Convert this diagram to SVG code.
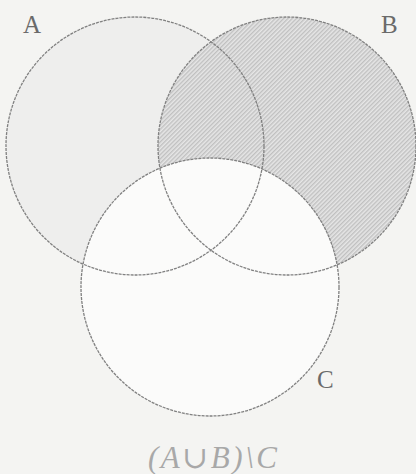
<svg xmlns="http://www.w3.org/2000/svg" width="416" height="474" viewBox="0 0 416 474">
  <style>
    .ring { fill: none; stroke: #808080; stroke-width: 1.3; stroke-dasharray: 3 1; }
    .lbl { font-family: "Liberation Serif", serif; font-size: 25px; fill: #6a6a6a; }
    .cap { font-family: "Liberation Serif", "DejaVu Serif", serif; font-style: italic; font-size: 31px; fill: #a8a8a8; }
  </style>
  <defs>
    <pattern id="hatch" patternUnits="userSpaceOnUse" width="3" height="3" patternTransform="rotate(45)">
      <rect width="3" height="3" fill="#e6e6e6"/>
      <line x1="0.8" y1="0" x2="0.8" y2="3" stroke="#aaaaaa" stroke-width="0.9"/>
    </pattern>
    <mask id="aNotC" maskUnits="userSpaceOnUse" x="0" y="0" width="416" height="474">
      <circle cx="135" cy="146" r="129" fill="#fff"/>
      <circle cx="210" cy="287" r="129" fill="#000"/>
    </mask>
    <mask id="bNotC" maskUnits="userSpaceOnUse" x="0" y="0" width="416" height="474">
      <circle cx="287" cy="146" r="129" fill="#fff"/>
      <circle cx="210" cy="287" r="129" fill="#000"/>
    </mask>
  </defs>
  <rect width="416" height="474" fill="#f4f4f2"/>
  <g id="regions">
    <circle cx="210" cy="287" r="129" fill="#fbfbfa"/>
    <rect width="416" height="474" fill="#eeeeed" mask="url(#aNotC)"/>
    <rect width="416" height="474" fill="url(#hatch)" mask="url(#bNotC)"/>
  </g>
  <g id="A">
    <circle class="ring" cx="135" cy="146" r="129"/>
    <text class="lbl" x="23" y="33">A</text>
  </g>
  <g id="B">
    <circle class="ring" cx="287" cy="146" r="129"/>
    <text class="lbl" x="381" y="33">B</text>
  </g>
  <g id="C">
    <circle class="ring" cx="210" cy="287" r="129"/>
    <text class="lbl" x="317" y="388">C</text>
  </g>
  <g id="connectors"/>
  <text class="cap" x="148" y="468" textLength="129" lengthAdjust="spacing">(A∪B)\C</text>
</svg>
